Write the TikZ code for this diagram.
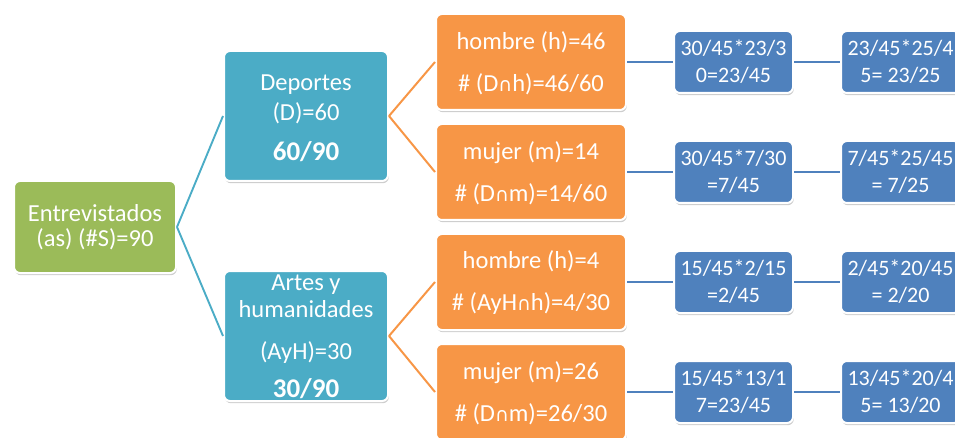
\documentclass[tikz,border=0pt]{standalone}
\usepackage{fontspec}
\setmainfont{Carlito}
\newfontfamily\symfont{DejaVu Sans}
\usetikzlibrary{shadows}

\definecolor{rootgreen}{HTML}{9BBB59}
\definecolor{catteal}{HTML}{4BACC6}
\definecolor{suborange}{HTML}{F79646}
\definecolor{calcblue}{HTML}{4F81BD}

% intersection sign taken from DejaVu Sans, set a little smaller
\newcommand{\capsym}{{\symfont\fontsize{19}{19}\selectfont ∩}}

\tikzset{
  card/.style={rounded corners=6pt, draw=white, line width=2pt, inner sep=0pt,
    drop shadow={shadow xshift=0.8pt, shadow yshift=-2.2pt, opacity=0.35, fill=black!55}},
  rootbox/.style={card, fill=rootgreen, minimum width=162pt, minimum height=92pt},
  catbox/.style={card, fill=catteal, minimum width=164pt, minimum height=130pt},
  subbox/.style={card, fill=suborange, minimum width=190pt, minimum height=96pt},
  calcbox/.style={card, fill=calcblue, minimum width=119pt, minimum height=62pt},
  txt/.style={text=white, align=center, inner sep=0pt},
  roottxt/.style={txt, font=\fontsize{24.5}{25}\selectfont},
  cattxt/.style={txt, font=\fontsize{24.5}{30}\selectfont},
  subtxt/.style={txt, font=\fontsize{24.5}{42}\selectfont, yshift=-1pt},
  calctxt/.style={txt, font=\fontsize{22}{27}\selectfont},
  rootline/.style={draw=catteal, line width=1.9pt},
  catline/.style={draw=suborange, line width=2pt},
  calcline/.style={draw=calcblue, line width=2pt},
}

\begin{document}
\begin{tikzpicture}[x=1pt,y=-1pt]
\useasboundingbox (0,0) rectangle (955,438);
\clip (0,0) rectangle (955,438);

% root
\node[rootbox] (root) at (95,227) {};
\node[roottxt] (roottext) at (root.center) {Entrevistados\\(as) (\#S)=90};

% categories
\node[catbox] (dep) at (306,116) {};
\node[cattxt, yshift=-2pt] (deptext) at (dep.center)
  {Deportes\\(D)=60\\[10pt]{\fontsize{27}{30}\selectfont\bfseries 60/90}};

\node[catbox] (ayh) at (306,336) {};
\node[cattxt, font=\fontsize{24.5}{27}\selectfont, yshift=-1pt] (ayhtext) at (ayh.center)
  {Artes y\\humanidades\\[15pt](AyH)=30\\[11pt]{\fontsize{27}{30}\selectfont\bfseries 30/90}};

% sub-groups
\node[subbox] (dh) at (531,62) {};
\node[subtxt] (dhtext) at (dh.center) {hombre (h)=46\\\# (D\capsym h)=46/60};
\node[subbox] (dm) at (531,172) {};
\node[subtxt] (dmtext) at (dm.center) {mujer (m)=14\\\# (D\capsym m)=14/60};
\node[subbox] (ah) at (531,282) {};
\node[subtxt] (ahtext) at (ah.center) {hombre (h)=4\\\# (AyH\capsym h)=4/30};
\node[subbox] (am) at (531,392) {};
\node[subtxt] (amtext) at (am.center) {mujer (m)=26\\\# (D\capsym m)=26/30};

% products, first column
\node[calcbox] (p1) at (733.5,62) {};
\node[calctxt] (p1text) at (p1.center) {30/45*23/3\\0=23/45};
\node[calcbox] (p2) at (733.5,172) {};
\node[calctxt] (p2text) at (p2.center) {30/45*7/30\\=7/45};
\node[calcbox] (p3) at (733.5,282) {};
\node[calctxt] (p3text) at (p3.center) {15/45*2/15\\=2/45};
\node[calcbox] (p4) at (733.5,392) {};
\node[calctxt] (p4text) at (p4.center) {15/45*13/1\\7=23/45};

% products, second column
\node[calcbox] (q1) at (900.5,62) {};
\node[calctxt] (q1text) at (q1.center) {23/45*25/4\\5= 23/25};
\node[calcbox] (q2) at (900.5,172) {};
\node[calctxt] (q2text) at (q2.center) {7/45*25/45\\= 7/25};
\node[calcbox] (q3) at (900.5,282) {};
\node[calctxt] (q3text) at (q3.center) {2/45*20/45\\= 2/20};
\node[calcbox] (q4) at (900.5,392) {};
\node[calctxt] (q4text) at (q4.center) {13/45*20/4\\5= 13/20};

% connectors
\draw[rootline] (root.east) -- (dep.west);
\draw[rootline] (root.east) -- (ayh.west);
\draw[catline] (dep.east) -- (dh.west);
\draw[catline] (dep.east) -- (dm.west);
\draw[catline] (ayh.east) -- (ah.west);
\draw[catline] (ayh.east) -- (am.west);
\foreach \s/\p/\q in {dh/p1/q1, dm/p2/q2, ah/p3/q3, am/p4/q4}{
  \draw[calcline] (\s.east) -- (\p.west);
  \draw[calcline] (\p.east) -- (\q.west);
}
\end{tikzpicture}
\end{document}
